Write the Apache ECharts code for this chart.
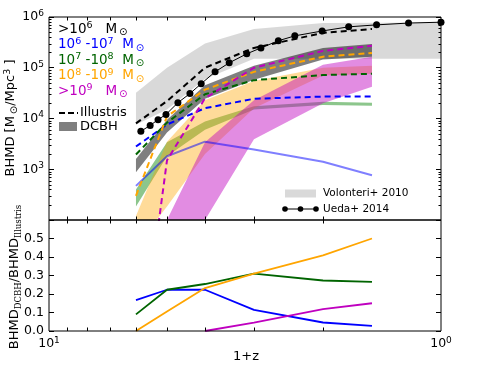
<!DOCTYPE html>
<html>
<head>
<meta charset="utf-8">
<script src="https://cdn.jsdelivr.net/npm/echarts@6/dist/echarts.min.js"></script>
<style>
html, body { margin: 0; padding: 0; background: #fff; }
#chart { width: 491px; height: 368px; }
</style>
</head>
<body>
<div id="chart"></div>
<script>
var FONT = '"DejaVu Sans", sans-serif';
var SERIF = '"DejaVu Serif", serif';

// 1+z of the simulation outputs
var simX = [6, 5, 4, 3, 2, 1.5];

// Illustris BH mass density (dashed)
var illAll = [8000, 22000, 100000, 246000, 486000, 580000];
var illM6 = [2800, 7600, 16000, 24500, 27000, 27000];
var illM7 = [1950, 8300, 30000, 57000, 72000, 76000];
var illM8 = [300, 11000, 37000, 83000, 165000, 195000];
var illM9 = [0.04, 1500, 25000, 100000, 215000, 270000];

// DCBH bands (low / high)
var dcbhAllLo = [870, 5300, 24500, 58000, 145000, 165000];
var dcbhAllHi = [1600, 9500, 45000, 110000, 245000, 295000];
var dcbhM6 = [470, 1800, 3500, 2450, 1400, 760];
var dcbhM7Lo = [185, 1800, 6000, 15000, 18500, 17800];
var dcbhM7Hi = [400, 3400, 8700, 17500, 21500, 20500];
var dcbhM8Lo = [30, 185, 2000, 16000, 70000, 76000];
var dcbhM8Hi = [120, 3500, 23000, 55000, 100000, 110000];
var dcbhM9Lo = [0.5, 8, 100, 3900, 20000, 42000];
var dcbhM9Hi = [5, 100, 3400, 23000, 115000, 165000];

// Volonteri+ 2010 band
var volX = [6, 5, 4, 3, 2, 1];
var volLo = [7500, 15000, 60000, 150000, 150000, 150000];
var volHi = [32000, 100000, 300000, 580000, 760000, 780000];

// Ueda+ 2014
var uedaX = [5.83, 5.52, 5.27, 5.03, 4.69, 4.37, 4.09, 3.77, 3.47, 3.13, 2.88, 2.6, 2.36, 2.01, 1.72, 1.46, 1.21, 1.0];
var uedaY = [5600, 7300, 9500, 12000, 20500, 31000, 48500, 83000, 125000, 188000, 246000, 340000, 425000, 530000, 640000, 700000, 760000, 790000];

// BHMD_DCBH / BHMD_Illustris
var fracM6 = [0.167, 0.223, 0.223, 0.114, 0.046, 0.028];
var fracM7 = [0.09, 0.223, 0.254, 0.31, 0.273, 0.265];
var fracM8 = [0.0, 0.105, 0.232, 0.31, 0.409, 0.5];
var fracM9 = [null, null, 0.0, 0.045, 0.118, 0.15];

// ticks
var xMinor = [2, 3, 4, 5, 6, 7, 8, 9];
var yDecades = [100, 1000, 10000, 100000];

var C6 = '#0000ff', C7 = '#006400', C8 = '#ffa500', C9 = '#bf00bf';

function pairs(xs, ys) {
  var out = [];
  for (var i = 0; i < xs.length; i++) {
    if (ys[i] != null) out.push([xs[i], ys[i]]);
  }
  return out;
}

function band(xs, lo, hi, fill, z) {
  return {
    type: 'custom', xAxisIndex: 0, yAxisIndex: 0, z: z, silent: true,
    data: [[xs[0], hi[0]]],
    renderItem: function (params, api) {
      var pts = [];
      for (var i = 0; i < xs.length; i++) pts.push(api.coord([xs[i], hi[i]]));
      for (var j = xs.length - 1; j >= 0; j--) pts.push(api.coord([xs[j], lo[j]]));
      var cs = params.coordSys;
      return {
        type: 'polygon', shape: { points: pts }, style: { fill: fill },
        clipPath: { type: 'rect', shape: { x: cs.x, y: cs.y, width: cs.width, height: cs.height } }
      };
    }
  };
}

function dashed(ys, color) {
  return {
    type: 'line', xAxisIndex: 0, yAxisIndex: 0, z: 5, symbol: 'none', silent: true,
    data: pairs(simX, ys),
    lineStyle: { color: color, width: 2, type: [6, 4] }
  };
}

function frac(ys, color) {
  return {
    type: 'line', xAxisIndex: 1, yAxisIndex: 1, z: 5, symbol: 'none', silent: true,
    data: pairs(simX, ys),
    lineStyle: { color: color, width: 1.8 }
  };
}

// frame + minor ticks drawn through the axes' scales
function frameTicks(gi, yMinorVals, yRef) {
  return {
    type: 'custom', xAxisIndex: gi, yAxisIndex: gi, z: 30, silent: true,
    data: [[2, yRef]],
    renderItem: function (params, api) {
      var cs = params.coordSys;
      var st = { stroke: '#000', lineWidth: 1 };
      var kids = [];
      xMinor.forEach(function (v) {
        var x = Math.round(api.coord([v, yRef])[0]) + 0.5;
        kids.push({ type: 'line', shape: { x1: x, y1: cs.y + cs.height, x2: x, y2: cs.y + cs.height - 3.5 }, style: st });
        kids.push({ type: 'line', shape: { x1: x, y1: cs.y, x2: x, y2: cs.y + 3.5 }, style: st });
      });
      yMinorVals.forEach(function (v) {
        var y = Math.round(api.coord([2, v])[1]) + 0.5;
        kids.push({ type: 'line', shape: { x1: cs.x, y1: y, x2: cs.x + 2.5, y2: y }, style: st });
        kids.push({ type: 'line', shape: { x1: cs.x + cs.width, y1: y, x2: cs.x + cs.width - 2.5, y2: y }, style: st });
      });
      kids.push({ type: 'rect', shape: { x: cs.x, y: cs.y, width: cs.width, height: cs.height },
        style: { fill: null, stroke: '#000', lineWidth: 1 } });
      return { type: 'group', children: kids };
    }
  };
}

var yMinorTop = [];
yDecades.forEach(function (d) { for (var k = 2; k <= 9; k++) yMinorTop.push(d * k); });

function pow10(v) {
  var e = Math.round(Math.log10(v));
  return '{b|10}{s|' + e + '}';
}
var tickRich = {
  b: { fontSize: 12.5, fontFamily: FONT, color: '#000', lineHeight: 16 },
  s: { fontSize: 9, fontFamily: FONT, color: '#000', lineHeight: 9, verticalAlign: 'top' }
};

function richFor(color, size) {
  return {
    t: { fontSize: size, fontFamily: FONT, fill: color, color: color, lineHeight: 17 },
    s: { fontSize: 9.5, fontFamily: FONT, fill: color, color: color, lineHeight: 10, verticalAlign: 'top' },
    o: { fontSize: 10, fontFamily: FONT, fill: color, color: color, lineHeight: 10, verticalAlign: 'bottom', padding: [0, 0, 0, 2] }
  };
}

var legendTexts = [
  ['{t|>10}{s|6}{t|   M}{o|⊙}', '#000000'],
  ['{t|10}{s|6}{t| -10}{s|7}{t|  M}{o|⊙}', C6],
  ['{t|10}{s|7}{t| -10}{s|8}{t|  M}{o|⊙}', C7],
  ['{t|10}{s|8}{t| -10}{s|9}{t|  M}{o|⊙}', C8],
  ['{t|>10}{s|9}{t|   M}{o|⊙}', C9]
];

var graphics = [];
legendTexts.forEach(function (l, i) {
  graphics.push({ type: 'text', x: 58, y: 29 + 15.6 * i, z: 50,
    style: { text: l[0], rich: richFor(l[1], 13.5), align: 'left', verticalAlign: 'middle' } });
});
graphics.push(
  { type: 'line', z: 50, shape: { x1: 59, y1: 113, x2: 78, y2: 113 }, style: { stroke: '#000', lineWidth: 2, lineDash: [6, 3] } },
  { type: 'text', x: 80, y: 113, z: 50, style: { text: 'Illustris', fontSize: 13, fontFamily: FONT, fill: '#000', align: 'left', verticalAlign: 'middle' } },
  { type: 'rect', z: 50, shape: { x: 59, y: 122, width: 18, height: 9 }, style: { fill: 'rgba(0,0,0,0.5)' } },
  { type: 'text', x: 80, y: 127, z: 50, style: { text: 'DCBH', fontSize: 13, fontFamily: FONT, fill: '#000', align: 'left', verticalAlign: 'middle' } },
  { type: 'rect', z: 50, shape: { x: 285, y: 189.5, width: 31, height: 8 }, style: { fill: 'rgba(0,0,0,0.15)' } },
  { type: 'text', x: 323, y: 193.5, z: 50, style: { text: 'Volonteri+ 2010', fontSize: 10.5, fontFamily: FONT, fill: '#000', align: 'left', verticalAlign: 'middle' } },
  { type: 'line', z: 50, shape: { x1: 285, y1: 209, x2: 316, y2: 209 }, style: { stroke: '#000', lineWidth: 1 } },
  { type: 'circle', z: 50, shape: { cx: 285, cy: 209, r: 2.8 }, style: { fill: '#000' } },
  { type: 'circle', z: 50, shape: { cx: 300.5, cy: 209, r: 2.8 }, style: { fill: '#000' } },
  { type: 'circle', z: 50, shape: { cx: 316, cy: 209, r: 2.8 }, style: { fill: '#000' } },
  { type: 'text', x: 323, y: 209, z: 50, style: { text: 'Ueda+ 2014', fontSize: 10.5, fontFamily: FONT, fill: '#000', align: 'left', verticalAlign: 'middle' } },
  // axis titles
  { type: 'text', x: 11, y: 118, rotation: Math.PI / 2, z: 50,
    style: { text: '{t|BHMD [M}{o|⊙}{t|/Mpc}{s|3}{t| ]}', rich: richFor('#000', 13), align: 'center', verticalAlign: 'middle' } },
  { type: 'text', x: 15, y: 277, rotation: Math.PI / 2, z: 50,
    style: { text: '{t|BHMD}{u|DCBH}{t|/BHMD}{u|Illustris}', align: 'center', verticalAlign: 'middle',
      rich: {
        t: { fontSize: 13, fontFamily: FONT, fill: '#000', lineHeight: 16 },
        u: { fontSize: 8.5, fontFamily: SERIF, fill: '#000', lineHeight: 9, verticalAlign: 'bottom' }
      } } },
  { type: 'text', x: 246, y: 357, z: 50, style: { text: '1+z', fontSize: 13, fontFamily: FONT, fill: '#000', align: 'center', verticalAlign: 'middle' } }
);

var chart = echarts.init(document.getElementById('chart'));
chart.setOption({
  animation: false,
  backgroundColor: '#fff',
  grid: [
    { left: 49, width: 392, top: 17, height: 203 },
    { left: 49, width: 392, top: 220, height: 111 }
  ],
  xAxis: [
    { gridIndex: 0, type: 'log', logBase: 10, min: 1, max: 10, inverse: true,
      axisLine: { show: false }, axisTick: { show: false }, axisLabel: { show: false }, splitLine: { show: false } },
    { gridIndex: 1, type: 'log', logBase: 10, min: 1, max: 10, inverse: true,
      axisLine: { show: false }, axisTick: { show: false }, splitLine: { show: false },
      axisLabel: { margin: 5, showMinLabel: true, showMaxLabel: true, formatter: pow10, rich: tickRich } }
  ],
  yAxis: [
    { gridIndex: 0, type: 'log', logBase: 10, min: 100, max: 1000000,
      axisLine: { show: false }, splitLine: { show: false },
      axisTick: { inside: true, length: 5, lineStyle: { color: '#000' } },
      axisLabel: { margin: 5, showMaxLabel: true, formatter: function (v) { return v < 150 ? '' : pow10(v); }, rich: tickRich } },
    { gridIndex: 1, type: 'value', min: 0, max: 0.6, interval: 0.1,
      axisLine: { show: false }, splitLine: { show: false },
      axisTick: { inside: true, length: 5, lineStyle: { color: '#000' } },
      axisLabel: { margin: 5, fontSize: 12.5, fontFamily: FONT, color: '#000',
        formatter: function (v) { return v > 0.55 ? '' : v.toFixed(1); } } },
    { gridIndex: 0, type: 'log', logBase: 10, min: 100, max: 1000000, position: 'right',
      axisLine: { show: false }, splitLine: { show: false }, axisLabel: { show: false },
      axisTick: { inside: true, length: 5, lineStyle: { color: '#000' } } },
    { gridIndex: 1, type: 'value', min: 0, max: 0.6, interval: 0.1, position: 'right',
      axisLine: { show: false }, splitLine: { show: false }, axisLabel: { show: false },
      axisTick: { inside: true, length: 5, lineStyle: { color: '#000' } } }
  ],
  graphic: graphics,
  series: [
    band(volX, volLo, volHi, 'rgba(0,0,0,0.15)', 1),
    band(simX, dcbhAllLo, dcbhAllHi, 'rgba(0,0,0,0.5)', 2),
    band(simX, dcbhM7Lo, dcbhM7Hi, 'rgba(0,128,0,0.45)', 2),
    band(simX, dcbhM8Lo, dcbhM8Hi, 'rgba(255,165,0,0.4)', 2),
    band(simX, dcbhM9Lo, dcbhM9Hi, 'rgba(191,0,191,0.45)', 2),
    { type: 'line', xAxisIndex: 0, yAxisIndex: 0, z: 3, symbol: 'none', silent: true,
      data: pairs(simX, dcbhM6), lineStyle: { color: 'rgba(0,0,255,0.5)', width: 2 } },
    dashed(illAll, '#000000'),
    dashed(illM6, C6),
    dashed(illM7, C7),
    dashed(illM8, C8),
    dashed(illM9, C9),
    { type: 'line', xAxisIndex: 0, yAxisIndex: 0, z: 6, silent: true,
      data: pairs(uedaX, uedaY), symbol: 'circle', symbolSize: 7, showAllSymbol: true,
      itemStyle: { color: '#000' }, lineStyle: { color: '#000', width: 1 } },
    frac(fracM6, C6),
    frac(fracM7, C7),
    frac(fracM8, C8),
    frac(fracM9, C9),
    frameTicks(0, yMinorTop, 1000),
    frameTicks(1, [], 0.3)
  ]
});
</script>
</body>
</html>
